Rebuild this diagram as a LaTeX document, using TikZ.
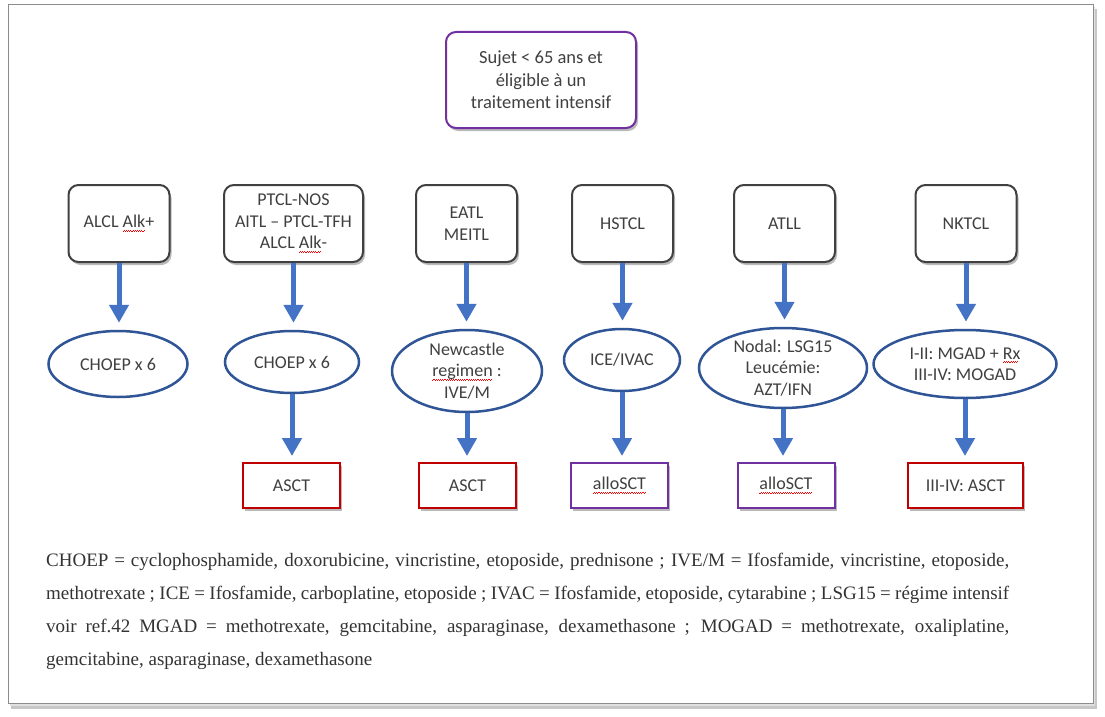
\documentclass[tikz,border=0pt]{standalone}
\usepackage{fontspec}
\setmainfont{Liberation Serif}
\newfontfamily\calib{Carlito}
\usetikzlibrary{shadows,arrows.meta,shapes.geometric}
\definecolor{arrowblue}{HTML}{4472C4}
\definecolor{ellblue}{HTML}{2F5597}
\definecolor{redc}{HTML}{C00000}
\definecolor{purp}{HTML}{7030A0}
\definecolor{txt}{HTML}{404040}
\newcommand\sperr[1]{\setbox0\hbox{#1}\rlap{\hbox to\wd0{\color{red}\leaders\hbox{\rule[-3.7pt]{1.1pt}{0.6pt}\rule[-2.9pt]{1.1pt}{0.6pt}}\hfill}}\box0\relax}
\begin{document}
\begin{tikzpicture}[x=1pt,y=-1pt,
  diag/.style={font=\calib\fontsize{18}{21.5}\selectfont, text=txt, align=center, inner sep=0pt},
  shad/.style={drop shadow={shadow xshift=2pt,shadow yshift=-3pt,opacity=0.38,fill=black!70}},
  rbox/.style={diag, draw=black!75, line width=2pt, rounded corners=10pt, fill=white, minimum width=101pt, minimum height=77pt, shad},
  ell/.style={ellipse, draw=ellblue, line width=2.5pt, fill=white, inner sep=0pt},
  sbox/.style={diag, line width=2pt, fill=white, minimum width=97pt, minimum height=45pt, shad},
  arr/.style={draw=arrowblue, line width=5pt, -{Triangle[width=19pt,length=18pt]}},
  para/.style={font=\fontsize{19}{22}\selectfont, text=black!80, inner sep=0pt, anchor=base west}
]
\useasboundingbox (0,0) rectangle (1105,717);
% page frame
\fill[black!22] (11,9) rectangle (1097,709);
\fill[black!12] (10,7) rectangle (1095,706);
\filldraw[fill=white, draw=black!45, line width=1pt] (8,5) rectangle (1093,703);

% top node
\node[rbox, draw=purp, minimum width=190pt, minimum height=96pt, font=\calib\fontsize{18.5}{22.5}\selectfont] (top) at (541,80) {Sujet < 65 ans et\\éligible à un\\traitement intensif};

% row 1
\node[rbox] (b1) at (119,223.5) {ALCL \sperr{Alk}+};
\node[rbox, minimum width=139pt] (b2) at (293.5,223.5) {PTCL-NOS\\AITL – PTCL-TFH\\ALCL \sperr{Alk}-};
\node[rbox] (b3) at (466.5,223.5) {EATL\\MEITL};
\node[rbox] (b4) at (622.5,223.5) {HSTCL};
\node[rbox] (b5) at (784.5,223.5) {ATLL};
\node[rbox] (b6) at (966,223.5) {NKTCL};

% row 2 ellipses
\node[ell, minimum width=139pt, minimum height=66pt] (e1) at (118,364) {};
\node[diag] (e1t) at (e1.center) {CHOEP x 6};
\node[ell, minimum width=134pt, minimum height=62pt] (e2) at (292,362) {};
\node[diag] (e2t) at (e2.center) {CHOEP x 6};
\node[ell, minimum width=150pt, minimum height=82pt] (e3) at (467,371) {};
\node[diag] (e3t) at (e3.center) {Newcastle\\\sperr{regimen} :\\IVE/M};
\node[ell, minimum width=116pt, minimum height=62pt] (e4) at (622,360) {};
\node[diag] (e4t) at (e4.center) {ICE/IVAC};
\node[ell, minimum width=168pt, minimum height=80pt] (e5) at (783,368) {};
\node[diag] (e5t) at (e5.center) {Nodal: LSG15\\Leucémie:\\AZT/IFN};
\node[ell, minimum width=183pt, minimum height=68pt] (e6) at (965,364) {};
\node[diag] (e6t) at (e6.center) {I-II: MGAD + \sperr{Rx}\\III-IV: MOGAD};

% row 3
\node[sbox, draw=redc] (s2) at (291.5,485.5) {ASCT};
\node[sbox, draw=redc] (s3) at (467.5,485.5) {ASCT};
\node[sbox, draw=purp] (s4) at (619.5,485.5) {\sperr{alloSCT}};
\node[sbox, draw=purp] (s5) at (786,485.5) {\sperr{alloSCT}};
\node[sbox, draw=redc, minimum width=115pt] (s6) at (965.5,485.5) {III-IV: ASCT};

% arrows row 1 -> row 2
\foreach \b/\e in {b1/e1,b2/e2,b3/e3,b4/e4,b5/e5,b6/e6}{
  \draw[arr, shorten >=7pt] (\b.south) -- (\b.south |- \e.north);
}
% arrows row 2 -> row 3
\foreach \e/\s in {e2/s2,e3/s3,e4/s4,e5/s5,e6/s6}{
  \draw[arr, shorten >=6pt] (\e.south) -- (\e.south |- \s.north);
}

% legend
\node[para] (t1) at (46,566) {\makebox[963pt][s]{CHOEP = cyclophosphamide, doxorubicine, vincristine, etoposide, prednisone ; IVE/M = Ifosfamide, vincristine, etoposide,}};
\node[para] (t2) at (46,599) {\makebox[963pt][s]{methotrexate ; ICE = Ifosfamide, carboplatine, etoposide ; IVAC = Ifosfamide, etoposide, cytarabine ; LSG15 = régime intensif}};
\node[para] (t3) at (46,632) {\makebox[963pt][s]{voir ref.42 MGAD = methotrexate, gemcitabine, asparaginase, dexamethasone ; MOGAD = methotrexate, oxaliplatine,}};
\node[para] (t4) at (46,665) {gemcitabine, asparaginase, dexamethasone};
\end{tikzpicture}
\end{document}
